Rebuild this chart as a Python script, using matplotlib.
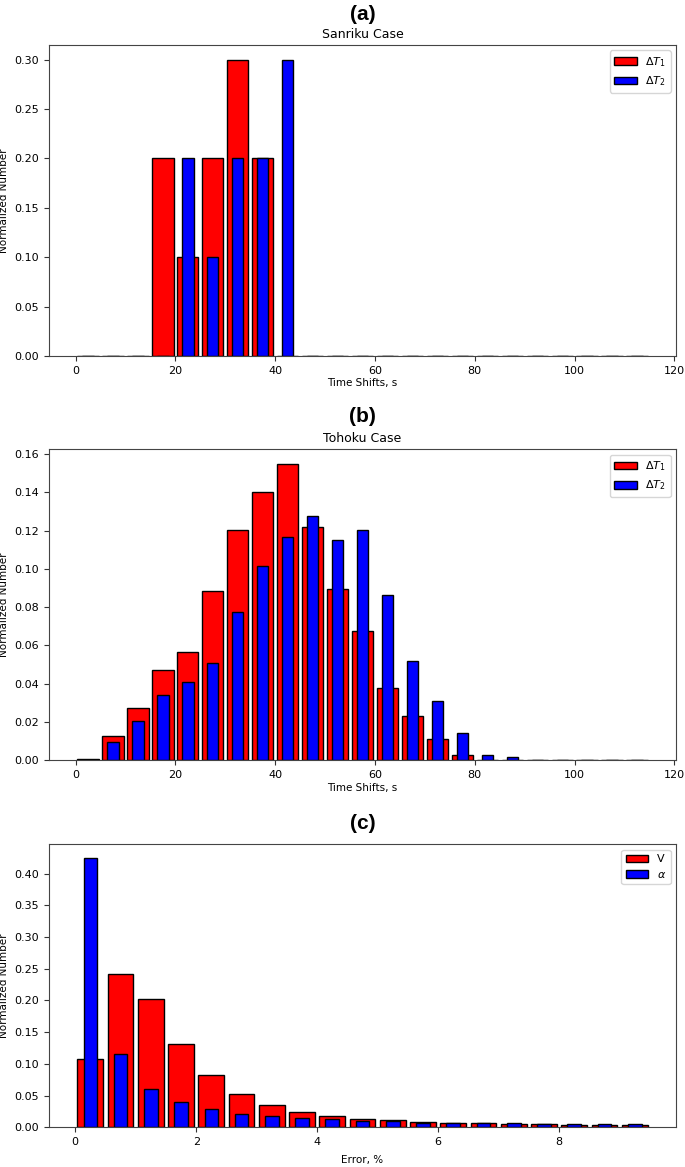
import numpy as np
import matplotlib.pyplot as plt

# time shift bins (s)
shift_bin = 5
n_shift = 23
# error bins (%)
err_bin = 0.5
n_err = 19

sanriku_dt1 = [0, 0, 0, 0.2, 0.1, 0.2, 0.3, 0.2, 0, 0, 0, 0, 0, 0, 0, 0, 0, 0, 0, 0, 0, 0, 0]
sanriku_dt2 = [0, 0, 0, 0, 0.2, 0.1, 0.2, 0.2, 0.3, 0, 0, 0, 0, 0, 0, 0, 0, 0, 0, 0, 0, 0, 0]

tohoku_dt1 = [0.0006, 0.0129, 0.0275, 0.0472, 0.0564, 0.0884, 0.1201, 0.1400, 0.1547, 0.1219,
              0.0897, 0.0674, 0.0376, 0.0230, 0.0113, 0.0028, 0.0002, 0, 0, 0, 0, 0, 0]
tohoku_dt2 = [0.0002, 0.0096, 0.0204, 0.0339, 0.0411, 0.0508, 0.0773, 0.1017, 0.1168, 0.1274,
              0.1152, 0.1205, 0.0863, 0.0519, 0.0308, 0.0141, 0.0030, 0.0017, 0, 0, 0, 0, 0]

err_v = [0.1071, 0.2416, 0.2022, 0.1318, 0.0819, 0.0520, 0.0347, 0.0242, 0.0179, 0.0137,
         0.0110, 0.0084, 0.0074, 0.0063, 0.0058, 0.0053, 0.0042, 0.0037, 0.0032]
err_alpha = [0.4250, 0.1155, 0.0609, 0.0394, 0.0284, 0.0215, 0.0173, 0.0142, 0.0126, 0.0105,
             0.0095, 0.0074, 0.0068, 0.0063, 0.0063, 0.0058, 0.0053, 0.0047, 0.0047]

fig = plt.figure(figsize=(6.85, 11.67), dpi=100)
left, width = 0.0715, 0.9155
ax1 = fig.add_axes([left, 0.695, width, 0.2665])
ax2 = fig.add_axes([left, 0.3485, width, 0.2665])
ax3 = fig.add_axes([left, 0.034, width, 0.2425])


def draw(ax, binw, nbins, r, b, labels):
    centers = (np.arange(nbins) + 0.5) * binw
    ax.bar(centers, r, width=binw * 0.85, color='red', edgecolor='black', linewidth=1.0, label=labels[0])
    ax.bar(centers, b, width=binw * 0.45, color='blue', edgecolor='black', linewidth=1.0, label=labels[1])
    ax.tick_params(labelsize=8, width=0.8, length=3.5, color='#333')
    for s in ax.spines.values():
        s.set_color('#444')
    ax.set_ylabel('Normalized Number', fontsize=7.5)
    ax.yaxis.set_label_coords(-0.064, 0.5)
    ax.legend(loc='upper right', fontsize=8)


draw(ax1, shift_bin, n_shift, sanriku_dt1, sanriku_dt2, [r'$\Delta T_1$', r'$\Delta T_2$'])
ax1.set_title('Sanriku Case', fontsize=9, pad=5)
ax1.set_xlabel('Time Shifts, s', fontsize=7.5, labelpad=2)

draw(ax2, shift_bin, n_shift, tohoku_dt1, tohoku_dt2, [r'$\Delta T_1$', r'$\Delta T_2$'])
ax2.set_title('Tohoku Case', fontsize=9, pad=5)
ax2.set_xlabel('Time Shifts, s', fontsize=7.5, labelpad=2)

draw(ax3, err_bin, n_err, err_v, err_alpha, ['V', r'$\alpha$'])
ax3.set_xlabel('Error, %', fontsize=7.5, labelpad=6)

xc = left + width / 2
for y, t in [(0.988, '(a)'), (0.6435, '(b)'), (0.294, '(c)')]:
    fig.text(xc, y, t, ha='center', va='center', fontsize=15, fontweight='bold', family='Liberation Sans')

fig.savefig('out.png', dpi=100)
